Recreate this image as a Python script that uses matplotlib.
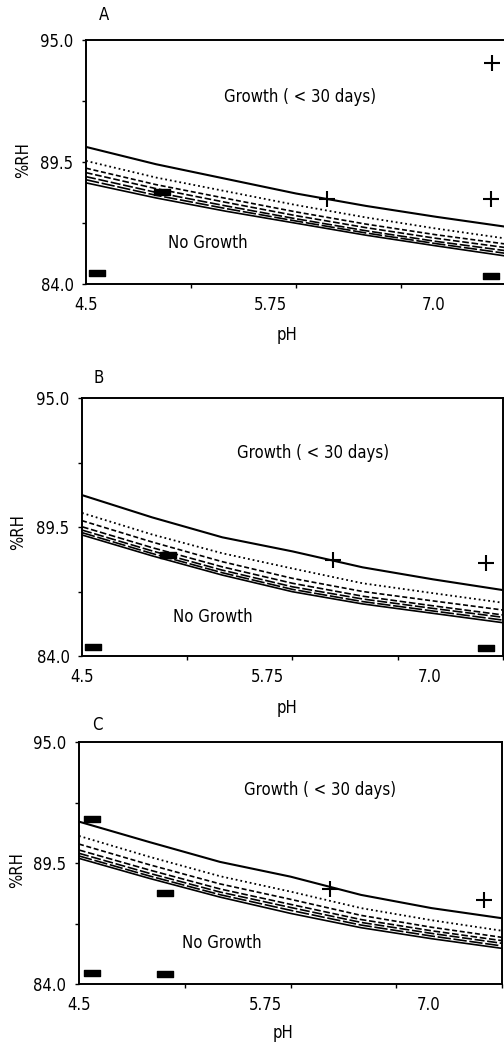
import numpy as np
import matplotlib
matplotlib.use('Agg')
import matplotlib.pyplot as plt
from matplotlib.path import Path

plt.rcParams['font.family'] = ['Liberation Sans Narrow', 'DejaVu Sans']
plt.rcParams['font.stretch'] = 'condensed'

W, H = 504, 1047

# pH grid the curves were read on
ph = [4.5, 5.0, 5.5, 6.0, 6.5, 7.0, 7.5]

# panel A curves (%RH)
a_top = [90.18, 89.40, 88.74, 88.08, 87.52, 87.03, 86.58]
a_dot = [89.55, 88.80, 88.18, 87.56, 87.00, 86.50, 86.05]
a_d1 = [89.22, 88.48, 87.86, 87.25, 86.70, 86.22, 85.80]
a_d2 = [89.02, 88.30, 87.68, 87.08, 86.54, 86.06, 85.64]
a_d3 = [88.84, 88.13, 87.52, 86.94, 86.40, 85.92, 85.50]
a_d4 = [88.70, 88.00, 87.40, 86.84, 86.30, 85.82, 85.38]
a_bot = [88.56, 87.88, 87.28, 86.74, 86.20, 85.72, 85.26]

# panel B curves
b_top = [90.86, 89.91, 89.06, 88.46, 87.78, 87.27, 86.81]
b_dot = [90.10, 89.18, 88.38, 87.73, 87.10, 86.68, 86.27]
b_d1 = [89.77, 88.86, 88.02, 87.31, 86.75, 86.35, 85.96]
b_d2 = [89.51, 88.62, 87.80, 87.10, 86.55, 86.14, 85.75]
b_d3 = [89.37, 88.48, 87.66, 86.95, 86.43, 86.03, 85.65]
b_d4 = [89.26, 88.37, 87.55, 86.84, 86.32, 85.92, 85.53]
b_bot = [89.16, 88.27, 87.45, 86.74, 86.22, 85.82, 85.42]

# panel C curves
c_top = [91.38, 90.45, 89.55, 88.88, 88.05, 87.45, 86.99]
c_dot = [90.73, 89.78, 88.90, 88.20, 87.45, 86.90, 86.42]
c_d1 = [90.36, 89.42, 88.55, 87.85, 87.12, 86.58, 86.12]
c_d2 = [90.09, 89.18, 88.32, 87.62, 86.93, 86.42, 85.97]
c_d3 = [89.94, 89.03, 88.18, 87.48, 86.80, 86.30, 85.85]
c_d4 = [89.82, 88.91, 88.06, 87.35, 86.68, 86.18, 85.73]
c_bot = [89.71, 88.80, 87.95, 87.21, 86.56, 86.06, 85.62]

# observations: growth (+) and no growth (-)
a_grow_ph = [6.22, 7.39, 7.40]
a_grow_rh = [87.83, 87.83, 93.96]
a_none_ph = [4.58, 5.04, 7.39]
a_none_rh = [84.50, 88.15, 84.36]

b_grow_ph = [6.29, 7.38]
b_grow_rh = [88.09, 87.96]
b_none_ph = [4.58, 5.11, 7.38]
b_none_rh = [84.38, 88.30, 84.34]

c_grow_ph = [6.28, 7.37]
c_grow_rh = [88.32, 87.82]
c_none_ph = [4.59, 5.11, 4.59, 5.11]
c_none_rh = [91.50, 88.14, 84.50, 84.45]

ytick_vals = [84.0, 89.5, 95.0]
ytick_minor = [86.75, 92.25]
xtick_minor = [4.5, 5.25, 6.0, 6.75, 7.5]
xlabel_pos = [4.5, 5.82, 6.98]
xlabel_txt = ['4.5', '5.75', '7.0']

styles = ['-', ':', (0, (3, 1.6)), (0, (4, 1.6)), (0, (6, 1.6)), (0, (8, 1.6)), '-']
widths = [1.5, 1.3, 1.2, 1.2, 1.2, 1.2, 1.2]

bar = Path([(-1.5, -0.5), (1.5, -0.5), (1.5, 0.5), (-1.5, 0.5), (-1.5, -0.5)],
           [Path.MOVETO, Path.LINETO, Path.LINETO, Path.LINETO, Path.CLOSEPOLY])

panels = [
    dict(box=(86, 40, 506, 284), letter='A', lp=(104, 15), yl=(23, 160), xl=(287, 335),
         grow=(300, 97), nog=(208, 243),
         curves=[a_top, a_dot, a_d1, a_d2, a_d3, a_d4, a_bot],
         gp=(a_grow_ph, a_grow_rh), npt=(a_none_ph, a_none_rh)),
    dict(box=(82, 398, 503, 656), letter='B', lp=(99, 378), yl=(18, 532), xl=(287, 708),
         grow=(313, 453), nog=(213, 617),
         curves=[b_top, b_dot, b_d1, b_d2, b_d3, b_d4, b_bot],
         gp=(b_grow_ph, b_grow_rh), npt=(b_none_ph, b_none_rh)),
    dict(box=(79, 742, 502, 984), letter='C', lp=(97, 725), yl=(17, 870), xl=(283, 1033),
         grow=(320, 790), nog=(222, 943),
         curves=[c_top, c_dot, c_d1, c_d2, c_d3, c_d4, c_bot],
         gp=(c_grow_ph, c_grow_rh), npt=(c_none_ph, c_none_rh)),
]

fig = plt.figure(figsize=(W / 100, H / 100), dpi=100)

def fx(x):
    return x / W

def fy(y):
    return 1 - y / H

fs = 12

for p in panels:
    x0, y0, x1, y1 = p['box']
    ax = fig.add_axes([fx(x0), fy(y1), (x1 - x0) / W, (y1 - y0) / H])
    for c, ls, lw in zip(p['curves'], styles, widths):
        ax.plot(ph, c, color='black', linestyle=ls, linewidth=lw)
    ax.plot(p['gp'][0], p['gp'][1], linestyle='none', marker='+', color='black',
            markersize=11, markeredgewidth=1.5)
    ax.plot(p['npt'][0], p['npt'][1], linestyle='none', marker=bar, color='black',
            markersize=12)
    ax.set_xlim(4.5, 7.5)
    ax.set_ylim(84.0, 95.0)
    ax.set_yticks(ytick_vals)
    ax.set_yticklabels(['%.1f' % v for v in ytick_vals])
    ax.set_yticks(ytick_minor, minor=True)
    ax.set_xticks(xlabel_pos)
    ax.set_xticklabels(xlabel_txt)
    ax.set_xticks(xtick_minor, minor=True)
    ax.tick_params(axis='x', which='major', length=0, pad=9, labelsize=fs)
    ax.tick_params(axis='x', which='minor', length=3, width=1, direction='out')
    ax.tick_params(axis='y', which='both', length=3, width=1, direction='out',
                   pad=6, labelsize=fs)
    for s in ax.spines.values():
        s.set_linewidth(1.4)
    fig.text(fx(p['lp'][0]), fy(p['lp'][1]), p['letter'], fontsize=fs,
             ha='center', va='center')
    fig.text(fx(p['yl'][0]), fy(p['yl'][1]), '%RH', fontsize=fs, rotation=90,
             ha='center', va='center')
    fig.text(fx(p['xl'][0]), fy(p['xl'][1]), 'pH', fontsize=fs,
             ha='center', va='center')
    fig.text(fx(p['grow'][0]), fy(p['grow'][1]), 'Growth ( < 30 days)', fontsize=fs,
             ha='center', va='center')
    fig.text(fx(p['nog'][0]), fy(p['nog'][1]), 'No Growth', fontsize=fs,
             ha='center', va='center')

fig.savefig('out.png', dpi=100)
